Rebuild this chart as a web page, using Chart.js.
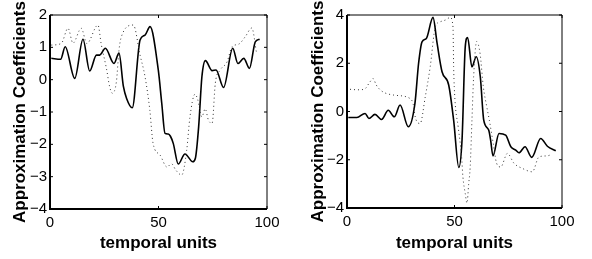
<!DOCTYPE html>
<html>
<head>
<meta charset="utf-8">
<script src="https://cdn.jsdelivr.net/npm/chart.js@4/dist/chart.umd.min.js"></script>
<style>
  html, body { margin: 0; padding: 0; background: #fff; }
  #wrap { position: relative; width: 592px; height: 259px; }
  canvas { position: absolute; top: 0; }
  #left { left: 0; }
  #right { left: 296px; }
</style>
</head>
<body>
<div id="wrap">
  <canvas id="left" width="296" height="259"></canvas>
  <canvas id="right" width="296" height="259"></canvas>
</div>
<script>
// left panel, solid series (t, value)
const leftSolidT = [0.6, 4.9, 7, 11.4, 15.2, 18.3, 21.4, 22.9, 25.5, 29.5, 31.8, 33.8, 35.3, 37.9,
  41.5, 43.8, 46.1, 49.9, 51.5, 53, 54.5, 55.5, 56.8, 59.1, 62.2, 65.8, 67, 68.5, 70, 71.6,
  74.7, 76.5, 80, 84.2, 86.6, 89.3, 91.9, 94.6, 96.6];
const leftSolidV = [0.66, 0.63, 1.02, 0.04, 1.25, 0.27, 0.76, 0.76, 0.97, 0.5, 0.82, -0.2, -0.58, -0.87,
  1.23, 1.38, 1.64, 0.3, -0.73, -1.66, -1.68, -1.75, -1.97, -2.61, -2.3, -2.54, -2.43, -1.46, 0.09, 0.59,
  0.28, 0.3, -0.24, 0.97, 0.5, 0.66, 0.35, 1.17, 1.25];

// left panel, dotted series
const leftDotT = [0.6, 5.2, 8.3, 10.6, 14.4, 17, 22.1, 23.6, 26, 27.5, 28.7, 30.6, 31.8, 32.9,
  38.4, 41.5, 43.8, 46, 47.5, 50.7, 53.9, 56, 58, 60.7, 63, 64.5, 66.8, 68, 70, 71.5, 73, 74.7,
  76.2, 78.5, 81.6, 83.9, 87, 90, 93, 95.2];
const leftDotV = [1.07, 1.12, 1.59, 1.13, 1.59, 1.12, 1.69, 1.1, 0.35, -0.22, -0.42, -0.06, 0.92, 1.33,
  1.69, 0.76, 0.09, -0.94, -1.97, -2.33, -2.7, -2.6, -2.8, -2.95, -2.18, -1.15, -0.45, -0.6, -1.15, -0.9, -1.25, -1.35,
  -0.1, 0.3, 0.55, 1.02, 1.1, 1.33, 1.6, 0.82];

// right panel, solid series
const rightSolidT = [0.6, 4.6, 8.4, 10.2, 13, 16.1, 19.2, 22, 24.7, 28.5, 31.6, 33.3, 34.9, 36.9,
  40, 41.9, 44.2, 47.3, 49.6, 52, 53.5, 55, 56.1, 58.1, 60.1, 62, 63.6, 65.9, 66.8, 67.9,
  70.7, 73.8, 76.2, 78.5, 80, 82.8, 85.9, 90.1, 93.2, 97.1];
const rightSolidV = [-0.25, -0.25, -0.08, -0.29, -0.12, -0.33, 0.05, -0.22, 0.27, -0.63, 0.34, 2.0, 2.89, 3.03,
  3.9, 2.83, 1.65, 1.1, -0.36, -2.32, -1.19, 2.68, 3.07, 1.85, 2.27, 1.44, -0.36, -0.77, -1.19, -1.84,
  -0.91, -0.98, -1.46, -1.6, -1.71, -1.46, -1.9, -1.12, -1.44, -1.63];

// right panel, dotted series
const rightDotT = [1.4, 5, 8, 10.7, 12.1, 13.6, 16.1, 21.8, 29.3, 30.8, 31.8, 33, 34, 36.4, 38.7,
  41.1, 43.4, 46, 48, 49.3, 49.6, 50.2, 51.7, 53.3, 53.9, 55, 55.8, 56.6, 57.3, 58.1, 58.9,
  60.3, 61.9, 63.4, 65, 66.2, 68, 69.6, 71.5, 74.6, 77.7, 81.6, 86.2, 89.3, 93, 95.5];
const rightDotV = [0.92, 0.9, 0.92, 1.23, 1.37, 1.1, 0.85, 0.68, 0.54, 0.3, -0.25, -0.47, -0.5, 0.61, 1.85,
  3.51, 3.72, 3.8, 3.9, 3.5, 1.85, 0.5, -0.63, -1.88, -2.7, -3.4, -3.8, -3.0, -2.3, -0.4, 1.44,
  2.9, 2.4, 1.03, 0.2, -0.36, -1.32, -2.15, -2.3, -1.74, -2.15, -2.36, -2.5, -1.88, -1.84, -1.77];

const xTicks = [0, 50, 100];
const leftYTicks = [-4, -3, -2, -1, 0, 1, 2];
const rightYTicks = [-4, -2, 0, 2, 4];

const FONT = "'Liberation Sans', Arial, Helvetica, sans-serif";

function pts(ts, vs) {
  return ts.map((t, i) => ({ x: t, y: vs[i] }));
}

// MATLAB style box with inward ticks
const boxPlugin = {
  id: "matlabBox",
  afterDraw(chart) {
    const { ctx, chartArea: a, scales } = chart;
    ctx.save();
    ctx.strokeStyle = "#000";
    ctx.lineWidth = 1;
    ctx.beginPath();
    ctx.moveTo(a.left, a.top);
    ctx.lineTo(a.right, a.top);
    ctx.lineTo(a.right, a.bottom);
    ctx.stroke();
    ctx.lineWidth = 2;
    ctx.beginPath();
    ctx.moveTo(a.left, a.top);
    ctx.lineTo(a.left, a.bottom);
    ctx.lineTo(a.right, a.bottom);
    ctx.stroke();
    ctx.lineWidth = 1;
    ctx.beginPath();
    scales.x.ticks.forEach((t) => {
      const px = scales.x.getPixelForValue(t.value);
      ctx.moveTo(px, a.bottom);
      ctx.lineTo(px, a.bottom - 3);
      ctx.moveTo(px, a.top);
      ctx.lineTo(px, a.top + 3);
    });
    scales.y.ticks.forEach((t) => {
      const py = scales.y.getPixelForValue(t.value);
      ctx.moveTo(a.left, py);
      ctx.lineTo(a.left + 3, py);
      ctx.moveTo(a.right, py);
      ctx.lineTo(a.right - 3, py);
    });
    ctx.stroke();
    ctx.restore();
  },
};

function makeChart(id, solid, dotted, yTicks, yWidth, xHeight, padRight, titlePad) {
  const ctx = document.getElementById(id).getContext("2d");
  return new Chart(ctx, {
    type: "line",
    data: {
      datasets: [
        {
          data: dotted,
          borderColor: "#333",
          borderWidth: 1,
          borderDash: [1, 3],
          pointRadius: 0,
          cubicInterpolationMode: "monotone",
          fill: false,
        },
        {
          data: solid,
          borderColor: "#000",
          borderWidth: 1.6,
          pointRadius: 0,
          cubicInterpolationMode: "monotone",
          fill: false,
        },
      ],
    },
    options: {
      responsive: false,
      animation: false,
      devicePixelRatio: 1,
      layout: { padding: { top: 15, right: padRight, left: 0, bottom: 0 } },
      plugins: { legend: { display: false }, tooltip: { enabled: false } },
      scales: {
        x: {
          type: "linear",
          min: 0,
          max: 100,
          afterBuildTicks: (s) => { s.ticks = xTicks.map((v) => ({ value: v })); },
          afterFit: (s) => { s.height = xHeight; },
          grid: { display: false, drawTicks: false },
          border: { display: false },
          ticks: { color: "#000", padding: 5, font: { family: FONT, size: 15 } },
          title: {
            display: true,
            text: "temporal units",
            color: "#000",
            padding: { top: 0, bottom: 5 },
            font: { family: FONT, size: 17, weight: "bold" },
          },
        },
        y: {
          min: yTicks[0],
          max: yTicks[yTicks.length - 1],
          afterBuildTicks: (s) => { s.ticks = yTicks.map((v) => ({ value: v })); },
          afterFit: (s) => { s.width = yWidth; },
          grid: { display: false, drawTicks: false },
          border: { display: false },
          ticks: {
            color: "#000",
            padding: 3,
            font: { family: FONT, size: 15 },
            callback: (v) => String(v).replace("-", "\u2212"),
          },
          title: {
            display: true,
            text: "Approximation Coefficients",
            color: "#000",
            padding: { top: titlePad, bottom: 0 },
            font: { family: FONT, size: 17, weight: "bold" },
          },
        },
      },
    },
    plugins: [boxPlugin],
  });
}

makeChart("left", pts(leftSolidT, leftSolidV), pts(leftDotT, leftDotV), leftYTicks, 50, 50, 29, 10);
makeChart("right", pts(rightSolidT, rightSolidV), pts(rightDotT, rightDotV), rightYTicks, 51, 51, 30, 12);
</script>
</body>
</html>
